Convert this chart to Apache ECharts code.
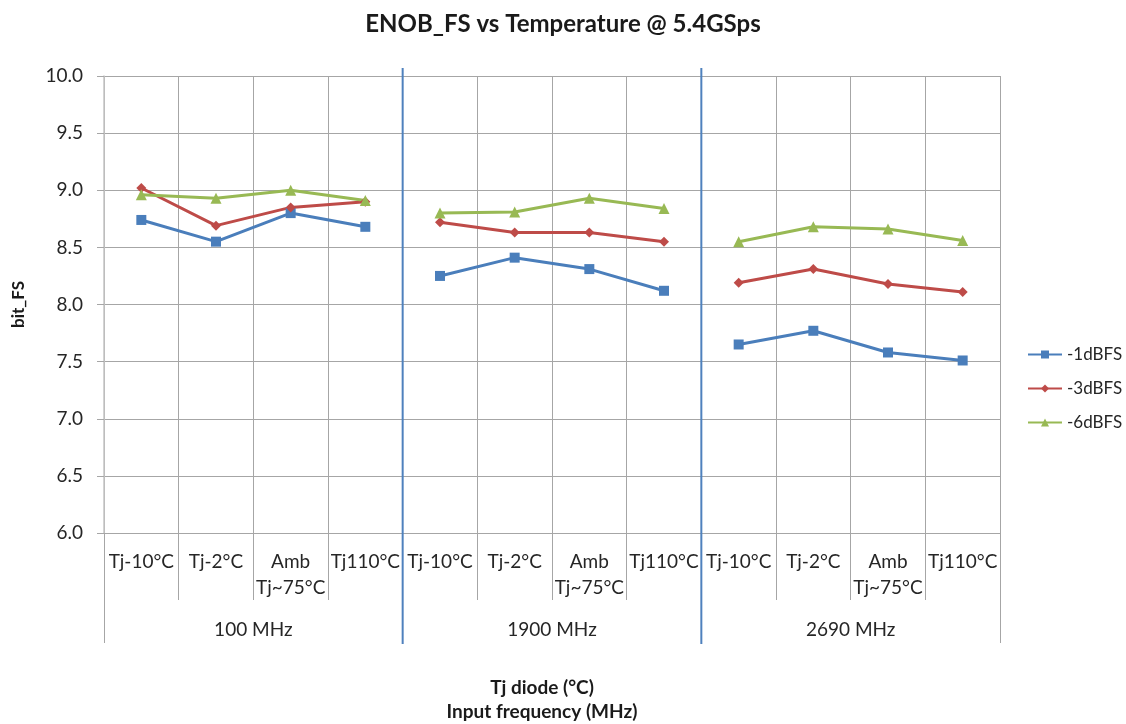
<!DOCTYPE html>
<html>
<head>
<meta charset="utf-8">
<script src="https://cdn.jsdelivr.net/npm/echarts@6/dist/echarts.min.js"></script>
<style>html,body{margin:0;padding:0;background:#fff;overflow:hidden;}#chart{width:1126px;height:724px;}</style>
</head>
<body>
<div id="chart"></div>
<script>
const tempLabels = ['Tj-10°C', 'Tj-2°C', 'Amb\nTj~75°C', 'Tj110°C'];
const freqGroups = ['100 MHz', '1900 MHz', '2690 MHz'];
const seriesNames = ['-1dBFS', '-3dBFS', '-6dBFS'];
const dbfs1 = [8.74, 8.55, 8.80, 8.68, 8.25, 8.41, 8.31, 8.12, 7.65, 7.77, 7.58, 7.51];
const dbfs3 = [9.02, 8.69, 8.85, 8.90, 8.72, 8.63, 8.63, 8.55, 8.19, 8.31, 8.18, 8.11];
const dbfs6 = [8.96, 8.93, 9.00, 8.91, 8.80, 8.81, 8.93, 8.84, 8.55, 8.68, 8.66, 8.56];
const yTicks = ['6.0','6.5','7.0','7.5','8.0','8.5','9.0','9.5','10.0'];

const categories = [];
freqGroups.forEach(() => tempLabels.forEach(t => categories.push(t)));
const perGroup = tempLabels.length;
const boundaries = freqGroups.slice(1).map((g, i) => (i + 1) * perGroup);

const FONT = 'Lato, "Open Sans", sans-serif';
const TXT = '#262626';
const GRIDC = '#a6a6a6';

const styles = [
  { values: dbfs1, color: '#4a7ebb', symbol: 'rect', size: 10 },
  { values: dbfs3, color: '#be4b48', symbol: 'diamond', size: 10 },
  { values: dbfs6, color: '#98b954', symbol: 'triangle', size: 11 }
];

const lineSeries = [];
styles.forEach((s, si) => {
  freqGroups.forEach((g, gi) => {
    lineSeries.push({
      name: seriesNames[si], type: 'line',
      data: s.values.map((v, i) => (Math.floor(i / perGroup) === gi ? v : '-')),
      connectNulls: false,
      symbol: s.symbol, symbolSize: s.size,
      lineStyle: { width: 3, color: s.color },
      itemStyle: { color: s.color },
      z: 3
    });
  });
});

const chart = echarts.init(document.getElementById('chart'));
chart.setOption({
  animation: false,
  backgroundColor: '#fff',
  textStyle: { fontFamily: FONT },
  title: {
    text: 'ENOB_FS vs Temperature @ 5.4GSps',
    left: 'center', top: 7,
    textStyle: { fontFamily: FONT, fontSize: 24, fontWeight: 'bold', color: '#1a1a1a' }
  },
  legend: {
    orient: 'vertical', left: 1022, top: 341,
    itemWidth: 34, itemHeight: 10, itemGap: 17,
    textStyle: { fontFamily: FONT, fontSize: 17, color: TXT },
    data: seriesNames
  },
  grid: { left: 104, width: 896, top: 76, height: 457, containLabel: false, outerBoundsMode: 'none' },
  xAxis: [
    {
      type: 'category', data: categories, boundaryGap: true,
      axisLine: { show: true, lineStyle: { color: GRIDC } },
      axisTick: { show: true, length: 67, lineStyle: { color: GRIDC } },
      splitLine: { show: true, lineStyle: { color: GRIDC } },
      axisLabel: { interval: 0, margin: 16, fontSize: 19, lineHeight: 26, color: TXT, fontFamily: FONT, align: 'center' }
    },
    {
      type: 'category', data: freqGroups, boundaryGap: true, position: 'bottom',
      axisLine: { show: false },
      axisTick: { show: true, length: 110, lineStyle: { color: GRIDC } },
      splitLine: { show: false },
      axisLabel: { interval: 0, margin: 87, fontSize: 19, color: TXT, fontFamily: FONT },
      name: 'Tj diode (°C)\nInput frequency (MHz)',
      nameLocation: 'middle', nameGap: 143,
      nameTextStyle: { fontFamily: FONT, fontSize: 19, fontWeight: 'bold', color: '#1a1a1a', lineHeight: 24, padding: [0, 20, 0, 0] }
    },
    {
      type: 'value', min: 0, max: categories.length, show: false
    }
  ],
  yAxis: {
    type: 'value', min: 6, max: 10, interval: 0.5,
    name: 'bit_FS', nameLocation: 'middle', nameGap: 77, nameRotate: 90,
    nameTextStyle: { fontFamily: FONT, fontSize: 17, fontWeight: 'bold', color: '#1a1a1a' },
    axisLine: { show: true, lineStyle: { color: '#c4c4c4', width: 1.5 } },
    axisTick: { show: true, length: 7, lineStyle: { color: GRIDC } },
    splitLine: { show: true, lineStyle: { color: GRIDC } },
    axisLabel: {
      margin: 21, fontSize: 19, color: TXT, fontFamily: FONT,
      formatter: v => yTicks[Math.round((v - 6) / 0.5)]
    }
  },
  series: lineSeries.concat([
    {
      type: 'custom', xAxisIndex: 2, yAxisIndex: 0, clip: false, silent: true, z: 5,
      data: boundaries.map(b => [b]),
      encode: { x: 0 },
      renderItem: (params, api) => {
        const top = api.coord([api.value(0), 10]);
        const bot = api.coord([api.value(0), 6]);
        return {
          type: 'line',
          shape: { x1: top[0], y1: top[1] - 8, x2: bot[0], y2: bot[1] + 111 },
          style: { stroke: '#4f81bd', lineWidth: 2 }
        };
      }
    }
  ])
});
</script>
</body>
</html>
